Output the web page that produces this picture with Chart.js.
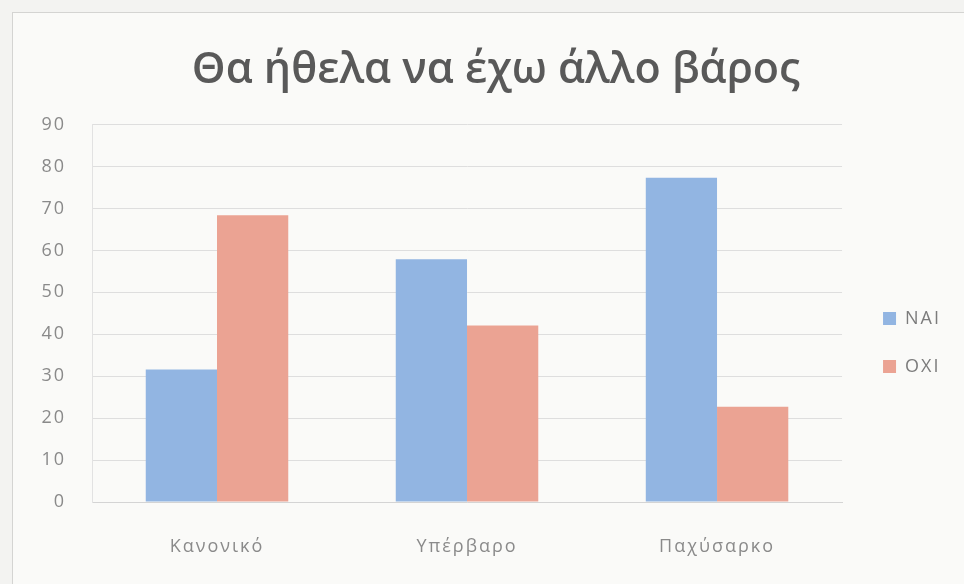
<!DOCTYPE html>
<html>
<head>
<meta charset="utf-8">
<script src="https://cdn.jsdelivr.net/npm/chart.js@4.4.1/dist/chart.umd.min.js"></script>
<style>
  html, body { margin: 0; padding: 0; background: #f3f3f1; }
  #frame {
    position: absolute; left: 12px; top: 12px; width: 960px; height: 580px;
    border: 1px solid #d4d4d2; background: #fafaf8;
  }
  #wrap { position: absolute; left: 0; top: 0; width: 964px; height: 584px; }
</style>
</head>
<body>
<div id="frame"></div>
<div id="wrap"><canvas id="chart"></canvas></div>
<script>
// chart data
const categories = ['Κανονικό', 'Υπέρβαρο', 'Παχύσαρκο'];
const naiValues = [31.6, 57.9, 77.3];
const oxiValues = [68.4, 42.1, 22.7];
const yTicks = [0, 10, 20, 30, 40, 50, 60, 70, 80, 90];

// the scanned original has wide letter spacing on the axis and legend text,
// but not on the title
const spacing = {
  id: 'spacing',
  beforeDraw(chart) {
    chart.ctx.letterSpacing = '2px';
    const t = chart.titleBlock;
    if (t && !t._wrapped) {
      const orig = t.draw.bind(t);
      t.draw = function () {
        chart.ctx.save();
        chart.ctx.letterSpacing = '0px';
        orig();
        chart.ctx.restore();
      };
      t._wrapped = true;
    }
  },
  afterLayout(chart) {
    // legend and title sit a bit off from where chart.js puts them
    chart.legend.left += 11;
    chart.legend.right += 11;
    chart.legend.top += 28;
    chart.legend.bottom += 28;
    chart.titleBlock.left += 9;
    chart.titleBlock.right += 9;
  }
};

const ctx = document.getElementById('chart').getContext('2d');
new Chart(ctx, {
  type: 'bar',
  data: {
    labels: categories,
    datasets: [
      { label: 'ΝΑΙ', data: naiValues, backgroundColor: '#92b5e2' },
      { label: 'ΟΧΙ', data: oxiValues, backgroundColor: '#eba393' }
    ]
  },
  options: {
    responsive: true,
    maintainAspectRatio: false,
    animation: false,
    layout: { padding: { left: 40, right: 30, top: 45, bottom: 0 } },
    datasets: { bar: { categoryPercentage: 0.57, barPercentage: 1.0 } },
    plugins: {
      title: {
        display: true,
        text: 'Θα ήθελα να έχω άλλο βάρος',
        color: '#595959',
        font: { family: 'Open Sans', size: 43, weight: '600' },
        padding: { top: 0, bottom: 28 }
      },
      legend: {
        position: 'right',
        labels: {
          color: '#7c7c7c',
          font: { family: 'Open Sans', size: 18 },
          boxWidth: 13, boxHeight: 13,
          padding: 30
        }
      },
      tooltip: { enabled: false }
    },
    scales: {
      x: {
        afterFit: s => { s.height = 82; },
        grid: { display: false, tickLength: 0 },
        border: { color: '#d4d4d4' },
        ticks: { color: '#8a8a8a', font: { family: 'Open Sans', size: 18 }, padding: 34 }
      },
      y: {
        min: 0, max: 90,
        afterBuildTicks: axis => { axis.ticks = yTicks.map(v => ({ value: v })); },
        afterFit: s => { s.width = 52; },
        grid: { color: '#dedede', drawTicks: false },
        border: { color: '#e2e2e2' },
        ticks: { color: '#8a8a8a', font: { family: 'Open Sans', size: 18 }, padding: 26 }
      }
    }
  },
  plugins: [spacing]
});
</script>
</body>
</html>
